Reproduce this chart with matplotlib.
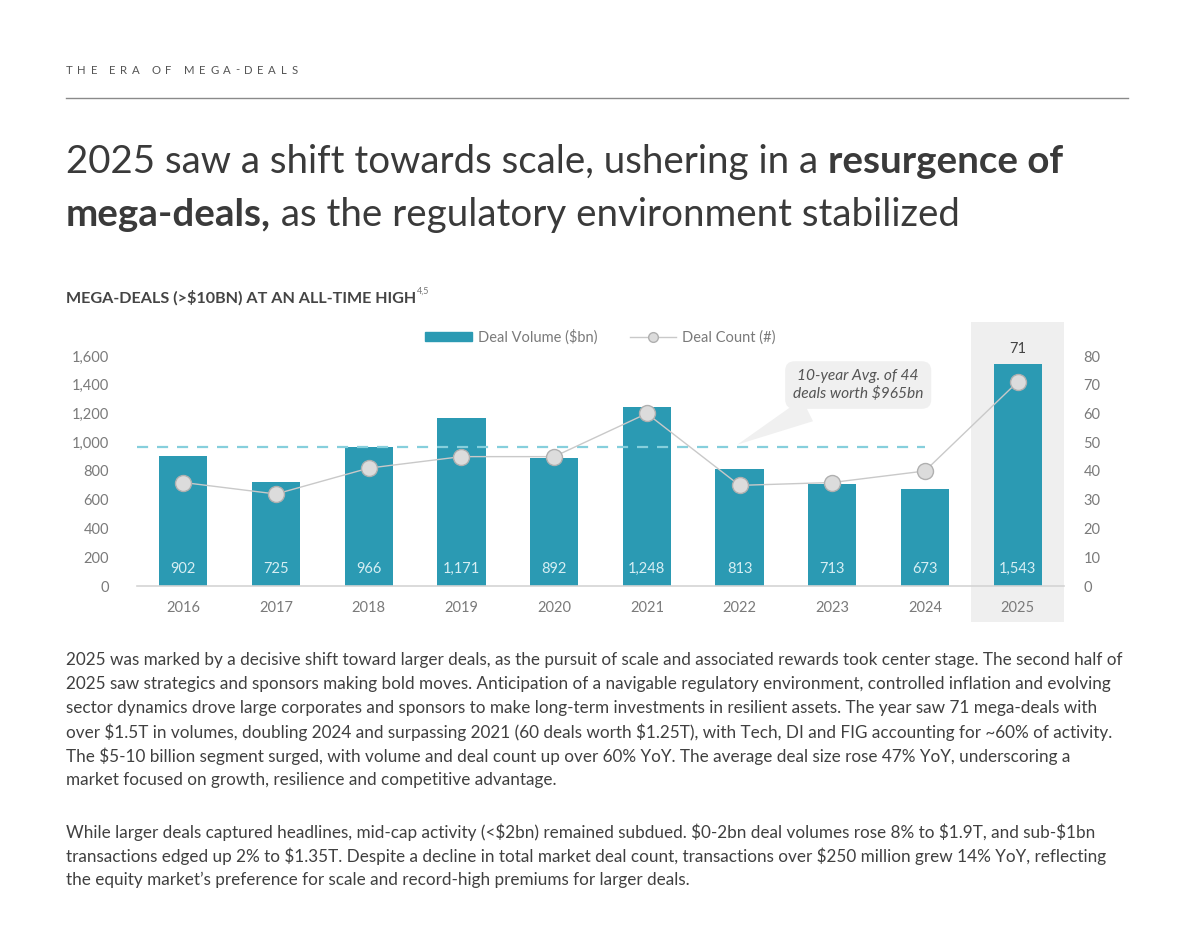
import matplotlib
matplotlib.use("Agg")
import matplotlib.pyplot as plt
import numpy as np
from matplotlib.patches import Rectangle
from matplotlib.lines import Line2D
from matplotlib.patches import Patch

# data
years = ["2016", "2017", "2018", "2019", "2020", "2021", "2022", "2023", "2024", "2025"]
volume = [902, 725, 966, 1171, 892, 1248, 813, 713, 673, 1543]
count = [36, 32, 41, 45, 45, 60, 35, 36, 40, 71]
avg_volume = 965
avg_count = 44

header = "THE ERA OF MEGA-DEALS"
title1 = [("2025 saw a shift towards scale, ushering in a ", "normal"), ("resurgence of", "bold")]
title2 = [("mega-deals,", "bold"), (" as the regulatory environment stabilized", "normal")]
subtitle = "MEGA-DEALS (>$10BN) AT AN ALL-TIME HIGH"
para1 = [
    "2025 was marked by a decisive shift toward larger deals, as the pursuit of scale and associated rewards took center stage. The second half of",
    "2025 saw strategics and sponsors making bold moves. Anticipation of a navigable regulatory environment, controlled inflation and evolving",
    "sector dynamics drove large corporates and sponsors to make long-term investments in resilient assets. The year saw 71 mega-deals with",
    "over $1.5T in volumes, doubling 2024 and surpassing 2021 (60 deals worth $1.25T), with Tech, DI and FIG accounting for ~60% of activity.",
    "The $5-10 billion segment surged, with volume and deal count up over 60% YoY. The average deal size rose 47% YoY, underscoring a",
    "market focused on growth, resilience and competitive advantage.",
]
para2 = [
    "While larger deals captured headlines, mid-cap activity (<$2bn) remained subdued. $0-2bn deal volumes rose 8% to $1.9T, and sub-$1bn",
    "transactions edged up 2% to $1.35T. Despite a decline in total market deal count, transactions over $250 million grew 14% YoY, reflecting",
    "the equity market\u2019s preference for scale and record-high premiums for larger deals.",
]

FONT = "Lato"
W, H = 1200, 932
BAR = "#2b9ab3"
GREY = "#7a7a7a"
DARK = "#3a3a3a"

plt.rcParams["font.family"] = [FONT, "DejaVu Sans"]
plt.rcParams["text.parse_math"] = False
fig = plt.figure(figsize=(12, 9.32), dpi=100)
fig.patch.set_facecolor("white")
r = fig.canvas.get_renderer()


def px(x, y):
    return x / W, 1 - y / H


def width_of(s, size, weight="normal", style="normal"):
    t = fig.text(0, 0, s, fontsize=size, fontweight=weight, fontstyle=style)
    w = t.get_window_extent(r).width
    t.remove()
    return w


def fit(s, target, weight="normal", base=12):
    return base * target / width_of(s, base, weight)


# header with tracking
x = 66
for ch in header:
    fig.text(*px(x, 70), ch, fontsize=8.2, color="#555555", va="center")
    x += width_of(ch, 8.2) + 4.6
fig.add_artist(Line2D([66 / W, 1128 / W], [1 - 98 / H] * 2, color="#8a8a8a", lw=1))

# title, mixed weights
tsize = fit("".join(s for s, _ in title1), 992, base=26)
for line, y in [(title1, 162), (title2, 215)]:
    x = 66
    for s, wgt in line:
        t = fig.text(*px(x, y), s, fontsize=tsize, fontweight=wgt, color=DARK, va="center")
        x += t.get_window_extent(r).width

# chart subtitle
ssize = fit(subtitle, 352, weight="bold", base=10)
t = fig.text(*px(66, 298), subtitle, fontsize=ssize, fontweight="bold", color="#444444", va="center")
fig.text(*px(66 + t.get_window_extent(r).width + 1, 291), "4,5", fontsize=6.5, color="#777777", va="center")

# chart
ax = fig.add_axes([137 / W, 1 - 586 / H, 927 / W, 264 / H])
xs = np.arange(len(years))
ax.set_xlim(-0.5, len(years) - 0.5)
ax.set_ylim(0, 1600 * 264 / 230)

ax.add_patch(Rectangle((8.5, -0.136), 1.0, 1.136, transform=ax.get_xaxis_transform(),
                       facecolor="#efefef", edgecolor="none", clip_on=False, zorder=0))
bars = ax.bar(xs, volume, width=0.52, color=BAR, zorder=2, label="Deal Volume ($bn)")
for xi, v in zip(xs, volume):
    ax.text(xi, 120, f"{v:,}", ha="center", va="center", color="#d6eef3", fontsize=10.5, zorder=5)
ax.axhline(avg_volume, xmin=0, xmax=8.5 / 10, color="#86cfdc", ls=(0, (5, 4)), lw=1.6, zorder=3)

ax.set_yticks(range(0, 1601, 200))
ax.set_yticklabels([f"{v:,}" for v in range(0, 1601, 200)])
ax.set_xticks(xs)
ax.set_xticklabels(years)
ax.tick_params(length=0, colors=GREY, labelsize=10.5)
ax.tick_params(axis="y", pad=20)
ax.tick_params(axis="x", pad=11)
for s in ["top", "right", "left"]:
    ax.spines[s].set_visible(False)
ax.spines["bottom"].set_color("#d4d4d4")
ax.spines["bottom"].set_linewidth(1.2)
ax.patch.set_alpha(0)

ax2 = ax.twinx()
ax2.set_ylim(0, 80 * 264 / 230)
ax2.set_yticks(range(0, 81, 10))
ax2.tick_params(length=0, colors=GREY, labelsize=10.5, pad=14)
for s in ["top", "right", "left", "bottom"]:
    ax2.spines[s].set_visible(False)
ax2.plot(xs, count, color="#c9c9c9", lw=1, marker="o", ms=11.5, mfc="#dcdcdc",
         mec="#b0b0b0", mew=1, zorder=4, label="Deal Count (#)")
ax2.text(xs[-1], count[-1] + 11.5, str(count[-1]), ha="center", va="center", color="#444444", fontsize=10.5)

# callout
ax.annotate("10-year Avg. of 44\ndeals worth $965bn", xy=(5.95, 975), xytext=(7.28, 1398),
            ha="center", va="center", fontsize=11.2, fontstyle="italic", color="#555555",
            linespacing=1.25,
            bbox=dict(boxstyle="round,pad=0.5,rounding_size=0.6", fc="#f0f0f0", ec="none"),
            arrowprops=dict(arrowstyle="wedge,tail_width=1.6,shrink_factor=0.5", fc="#f0f0f0", ec="none"),
            zorder=6)

handles = [Patch(color=BAR, label="Deal Volume ($bn)"),
           Line2D([], [], color="#c9c9c9", lw=1, marker="o", ms=7, mfc="#dcdcdc", mec="#b0b0b0",
                  label="Deal Count (#)")]
leg = ax.legend(handles=handles, loc="center", bbox_to_anchor=(0.5, 0.944), ncol=2, frameon=False,
                fontsize=10.5, handlelength=3.2, handleheight=0.55, columnspacing=2.2, handletextpad=0.4)
for t in leg.get_texts():
    t.set_color(GREY)

# body text
bsize = fit(para1[0], 1056, base=11)
for i, line in enumerate(para1):
    fig.text(*px(66, 660 + i * 24), line, fontsize=bsize, color="#404040", va="center")
for i, line in enumerate(para2):
    fig.text(*px(66, 832 + i * 24), line, fontsize=bsize, color="#404040", va="center")

fig.savefig("out.png", dpi=100, facecolor="white")
